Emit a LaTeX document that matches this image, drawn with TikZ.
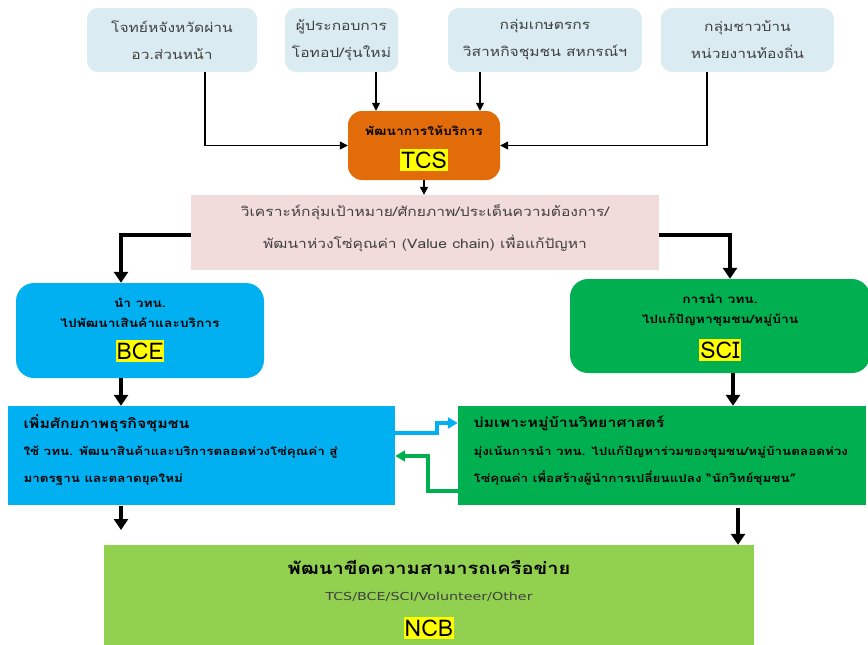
\documentclass[tikz,border=0pt]{standalone}
\usepackage{fontspec}
\setmainfont[Script=Thai, FakeStretch=1.2]{Loma}
\newfontfamily\latinwide[FakeStretch=1.3]{DejaVu Sans}
\newfontfamily\labelfont{Loma}
\usetikzlibrary{arrows.meta}
\definecolor{topbox}{HTML}{DAEBF1}
\definecolor{tcsorange}{HTML}{E36C0A}
\definecolor{anapink}{HTML}{F2DCDB}
\definecolor{bceblue}{HTML}{00B0F0}
\definecolor{scigreen}{HTML}{00B050}
\definecolor{ncbgreen}{HTML}{92D050}
\definecolor{hl}{HTML}{FFFF00}
\definecolor{txtgray}{HTML}{404040}
\tikzset{
  topnode/.style={fill=topbox, rounded corners=11pt, text=txtgray, align=center,
    font=\fontsize{13}{27}\selectfont, inner sep=0pt},
  hlbox/.style={fill=hl, inner xsep=1pt, inner ysep=3pt, font=\labelfont\fontsize{23}{25}\selectfont, text=black},
  smallbold/.style={font=\bfseries\fontsize{11.5}{20}\selectfont, align=center, text=black},
  thinarr/.style={draw=black, line width=1.3pt, -{Triangle[length=8pt,width=8pt]}},
  thickarr/.style={draw=black, line width=3.6pt, -{Triangle[length=11pt,width=14pt]}},
  linkarr/.style={line width=3.2pt, -{Triangle[length=10pt,width=11pt]}},
  leftbody/.style={anchor=west, font=\bfseries\fontsize{11.2}{27}\selectfont, align=left, text=black},
}
\begin{document}
\begin{tikzpicture}[x=1pt,y=-1pt]
\useasboundingbox (0,0) rectangle (868,645);
% top boxes
\node[topnode, minimum width=170pt, minimum height=64pt] (b1) at (172,40) {โจทย์หจังหวัดผ่าน\\อว.ส่วนหน้า};
\node[topnode, minimum width=113pt, minimum height=64pt] (b2) at (341.5,40) {ผู้ประกอบการ\\โอทอป/รุ่นใหม่};
\node[topnode, minimum width=194pt, minimum height=64pt] (b3) at (545,40) {กลุ่มเกษตรกร\\วิสาหกิจชุมชน สหกรณ์ฯ};
\node[topnode, minimum width=173pt, minimum height=64pt] (b4) at (747.5,40) {กลุ่มชาวบ้าน\\หน่วยงานท้องถิ่น};
% TCS
\node[fill=tcsorange, rounded corners=14pt, minimum width=152pt, minimum height=69pt, inner sep=0pt] (tcs) at (424,145.5) {};
\node[smallbold] (tcst) at (424,131) {พัฒนาการให้บริการ};
\node[hlbox] (tcsl) at (424,160) {TCS};
% analysis
\node[fill=anapink, minimum width=468pt, minimum height=75pt, inner sep=0pt] (ana) at (425,232.5) {};
\node[text=txtgray, align=center, font=\fontsize{13}{32}\selectfont] (anat) at (425,228.5) {วิเคราะห์กลุ่มเป้าหมาย/ศักยภาพ/ประเด็นความต้องการ/\\พัฒนาห่วงโซ่คุณค่า (Value chain) เพื่อแก้ปัญหา};
% BCE
\node[fill=bceblue, rounded corners=18pt, minimum width=248pt, minimum height=95pt, inner sep=0pt] (bce) at (140,330.5) {};
\node[smallbold] (bcet) at (140,313) {นำ วทน.\\ไปพัฒนาเสินค้าและบริการ};
\node[hlbox] (bcel) at (140,351) {BCE};
% SCI
\node[fill=scigreen, rounded corners=18pt, minimum width=300pt, minimum height=94pt, inner sep=0pt] (sci) at (720,326) {};
\node[smallbold] (scit) at (720,310) {การนำ วทน.\\ไปแก้ปัญหาชุมชน/หมู่บ้าน};
\node[hlbox] (scil) at (720,350) {SCI};
% community business box
\node[fill=bceblue, minimum width=387pt, minimum height=99pt, inner sep=0pt] (cb) at (201.5,455.5) {};
\node[anchor=west, font=\bfseries\fontsize{13.3}{16}\selectfont] (cbt) at (20,423) {เพิ่มศักยภาพธุรกิจชุมชน};
\node[leftbody] (cbb) at (20,465.5) {ใช้ วทน. พัฒนาสินค้าและบริการตลอดห่วงโซ่คุณค่า สู่\\มาตรฐาน และตลาดยุคใหม่};
% science village box
\node[fill=scigreen, minimum width=408pt, minimum height=99pt, inner sep=0pt] (sv) at (662,455.5) {};
\node[anchor=west, font=\bfseries\fontsize{13.3}{16}\selectfont] (svt) at (470,423) {บ่มเพาะหมู่บ้านวิทยาศาสตร์};
\node[leftbody] (svb) at (470,465.5) {มุ่งเน้นการนำ วทน. ไปแก้ปัญหาร่วมของชุมชน/หมู่บ้านตลอดห่วง\\โซ่คุณค่า เพื่อสร้างผู้นำการเปลี่ยนแปลง “นักวิทย์ชุมชน”};
% NCB
\node[fill=ncbgreen, minimum width=650pt, minimum height=100pt, inner sep=0pt] (ncb) at (429,595) {};
\node[font=\bfseries\fontsize{16.7}{18}\selectfont] (ncbt) at (429,567) {พัฒนาขีดความสามารถเครือข่าย};
\node[font=\latinwide\fontsize{11}{12}\selectfont, text=txtgray] (ncbs) at (429,597) {TCS/BCE/SCI/Volunteer/Other};
\node[hlbox] (ncbl) at (429,628) {NCB};
% connectors top
\coordinate (c1) at (205,72);
\coordinate (c4) at (707,72);
\coordinate (c2) at (376,72);
\coordinate (c3) at (480,72);
\draw[thinarr] (c1) |- (tcs.west);
\draw[thinarr] (c4) |- (tcs.east);
\draw[thinarr] (c2) -- (c2 |- tcs.north);
\draw[thinarr] (c3) -- (c3 |- tcs.north);
\coordinate (c5) at (424,180);
\draw[thinarr] (c5) -- (c5 |- ana.north);
% elbows
\coordinate (e1) at (121,235);
\coordinate (e2) at (730,235);
\draw[thickarr] (ana.west |- e1) -| (e1 |- bce.north);
\draw[thickarr] (ana.east |- e2) -| (e2 |- sci.north);
% down arrows
\coordinate (d1) at (121,378);
\coordinate (d2) at (733,373);
\draw[thickarr] (d1) -- (d1 |- cb.north);
\draw[thickarr] (d2) -- (d2 |- sv.north);
\coordinate (d3) at (121,506);
\coordinate (d4) at (738,508);
\draw[thickarr] (d3) -- ++(0,24);
\draw[thickarr] (d4) -- (d4 |- ncb.north);
% links
\coordinate (l1) at (395,433);
\coordinate (l2) at (437,423);
\draw[linkarr, draw=bceblue] (l1) -- (l1 -| l2) -- (l2) -- (l2 -| sv.west);
\coordinate (g1) at (458,491);
\coordinate (g2) at (428,456);
\draw[linkarr, draw=scigreen] (g1) -- (g1 -| g2) -- (g2) -- (g2 -| cb.east);
\end{tikzpicture}
\end{document}
